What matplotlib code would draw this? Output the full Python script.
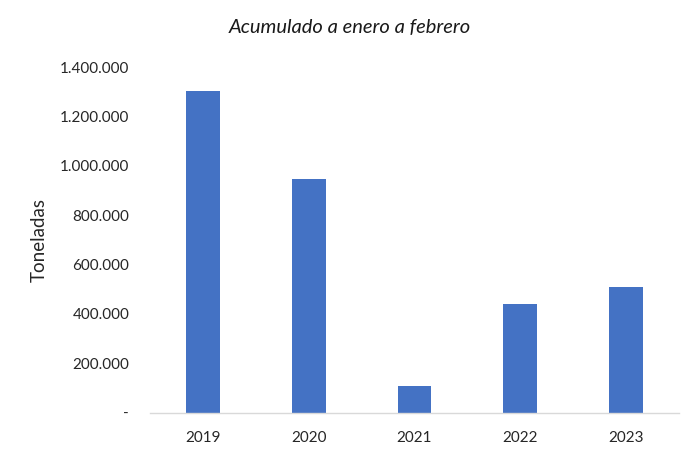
"""Acumulado a enero a febrero - toneladas por año."""

import matplotlib
matplotlib.use('Agg')
import matplotlib.pyplot as plt
from matplotlib.ticker import FuncFormatter

years = ['2019', '2020', '2021', '2022', '2023']
tons = [1303000, 948000, 107000, 441000, 509000]
y_ticks = [0, 200000, 400000, 600000, 800000, 1000000, 1200000, 1400000]

BAR_COLOR = '#4472c4'
TEXT_COLOR = '#262626'

plt.rcParams['font.family'] = ['Lato', 'DejaVu Sans']


def miles(value, _pos):
    if value == 0:
        return '-'
    return f'{value:,.0f}'.replace(',', '.')


fig = plt.figure(figsize=(7, 4.59), dpi=100)
ax = fig.add_axes([0.2143, 0.1013, 0.7557, 0.752])

ax.bar(years, tons, width=0.32, color=BAR_COLOR, zorder=2)

ax.set_ylim(0, 1400000)
ax.set_xlim(-0.5, len(years) - 0.5)
ax.set_yticks(y_ticks)
ax.yaxis.set_major_formatter(FuncFormatter(miles))
ax.tick_params(axis='y', length=0, pad=15, labelsize=11, labelcolor=TEXT_COLOR)
ax.tick_params(axis='x', length=0, pad=13, labelsize=11, labelcolor=TEXT_COLOR)

for side in ('top', 'right', 'left'):
    ax.spines[side].set_visible(False)
ax.spines['bottom'].set_color('#d9d9d9')
ax.spines['bottom'].set_linewidth(1.0)

ax.set_ylabel('Toneladas', fontsize=13.5, color=TEXT_COLOR, labelpad=9)
fig.text(0.5, 0.939, 'Acumulado a enero a febrero', ha='center', va='center',
         fontsize=14.5, style='italic', color='#1a1a1a')

fig.savefig('out.png', dpi=100)
